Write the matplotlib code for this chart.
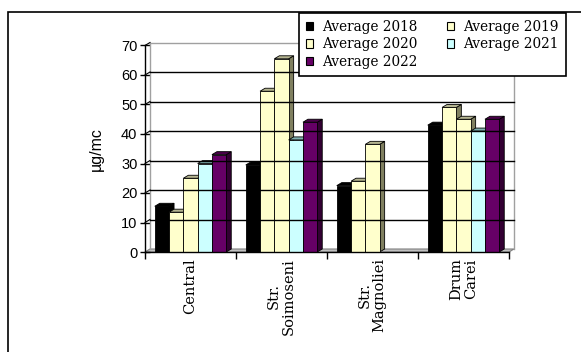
import numpy as np
import matplotlib
matplotlib.use("Agg")
import matplotlib.pyplot as plt
from matplotlib.patches import Polygon, Rectangle, Patch

# data
sites = ["Central", "Str.\nSoimoseni", "Str.\nMagnoliei", "Drum\nCarei"]
years = ["Average 2018", "Average 2019", "Average 2020", "Average 2021", "Average 2022"]
avg_2018 = [15.5, 29.5, 22.5, 43]
avg_2019 = [13.5, 54.5, 24, 49]
avg_2020 = [25, 65.5, 36.5, 45]
avg_2021 = [30, 38, np.nan, 41]
avg_2022 = [33, 44, np.nan, 45]
yticks = [0, 10, 20, 30, 40, 50, 60, 70]

series = [avg_2018, avg_2019, avg_2020, avg_2021, avg_2022]
front = ["#000000", "#FFFFCC", "#FFFFCC", "#CCFFFF", "#660066"]
top = ["#000000", "#B4B490", "#B4B490", "#80B0B0", "#4A004A"]
side = ["#000000", "#808060", "#808060", "#609090", "#330033"]

W, H = 581, 352
fig = plt.figure(figsize=(W / 100, H / 100), dpi=100)

# outer chart frame
fig.patches.append(Rectangle((8 / W, -0.1), 1.0, (H - 12) / H + 0.1, transform=fig.transFigure,
                             fill=False, edgecolor="black", linewidth=1.2))

x0, x1, y0, y1 = 145, 509, 252, 45.5
ax = fig.add_axes([x0 / W, (H - y0) / H, (x1 - x0) / W, (y0 - y1) / H])
ax.set_xlim(0, 4)
ax.set_ylim(0, 70)
for s in ["top", "right", "bottom"]:
    ax.spines[s].set_visible(False)
ax.spines["left"].set_linewidth(1.0)

dx = 5 / 91
dy = 3 / 2.956

# walls, floor and gridlines
ax.add_patch(Polygon([(0, 0), (4, 0), (4 + dx, dy), (dx, dy)], closed=True,
                     facecolor="#C0C0C0", edgecolor="#808080", linewidth=0.8, clip_on=False))
ax.plot([dx, dx], [dy, 70 + dy], color="#A0A0A0", lw=1, clip_on=False)
ax.plot([4 + dx, 4 + dx], [dy, 70 + dy], color="#A0A0A0", lw=1, clip_on=False)
ax.plot([dx, 4 + dx], [70 + dy, 70 + dy], color="#A0A0A0", lw=1, clip_on=False)
for v in yticks[1:-1]:
    ax.plot([dx, 4 + dx], [v + dy, v + dy], color="black", lw=1, clip_on=False)
for v in yticks[1:]:
    ax.plot([0, dx], [v, v + dy], color="black", lw=0.8, clip_on=False)

bw = 14.3 / 91
for i, vals in enumerate(series):
    for c, h in enumerate(vals):
        if np.isnan(h):
            continue
        xl = c + 0.5 + (i - 2.5) * bw
        xr = xl + bw
        ax.add_patch(Polygon([(xr, 0), (xr + dx, dy), (xr + dx, h + dy), (xr, h)], closed=True,
                             facecolor=side[i], edgecolor="black", linewidth=0.6, clip_on=False))
        ax.add_patch(Polygon([(xl, h), (xr, h), (xr + dx, h + dy), (xl + dx, h + dy)], closed=True,
                             facecolor=top[i], edgecolor="black", linewidth=0.6, clip_on=False))
        ax.add_patch(Rectangle((xl, 0), bw, h, facecolor=front[i], edgecolor="black",
                               linewidth=0.6, clip_on=False))

ax.plot([0, 4], [0, 0], color="black", lw=1, clip_on=False)
ax.set_yticks(yticks)
ax.set_yticklabels([str(v) for v in yticks], fontsize=10.5, family="Liberation Sans")
ax.tick_params(axis="y", direction="inout", length=7, width=1, pad=2)
ax.set_xticks([0, 1, 2, 3, 4])
ax.set_xticklabels([])
ax.tick_params(axis="x", direction="out", length=5, width=1)
for c, name in enumerate(sites):
    ax.text(c + 0.5, -2.0, name, rotation=90, ha="center", va="top", multialignment="center",
            fontsize=10.5, family="DejaVu Serif", linespacing=1.05)
ax.set_ylabel("µg/mc", fontsize=11.5, family="Liberation Sans", labelpad=12)

handles = [Patch(facecolor=front[i], edgecolor="black", linewidth=0.8) for i in range(5)]
order = [0, 2, 4, 1, 3]
fig.legend([handles[k] for k in order], [years[k] for k in order], ncol=2,
           loc="upper left", bbox_to_anchor=(298.5 / W, 1 - 12.5 / H),
           prop={"family": "DejaVu Serif", "size": 9.8},
           frameon=True, fancybox=False, edgecolor="black", framealpha=1,
           handlelength=0.55, handleheight=0.55, handletextpad=0.6,
           columnspacing=2.2, labelspacing=0.25, borderpad=0.55, borderaxespad=0)
fig.legends[0].get_frame().set_linewidth(1.2)

fig.savefig("out.png", dpi=100)
